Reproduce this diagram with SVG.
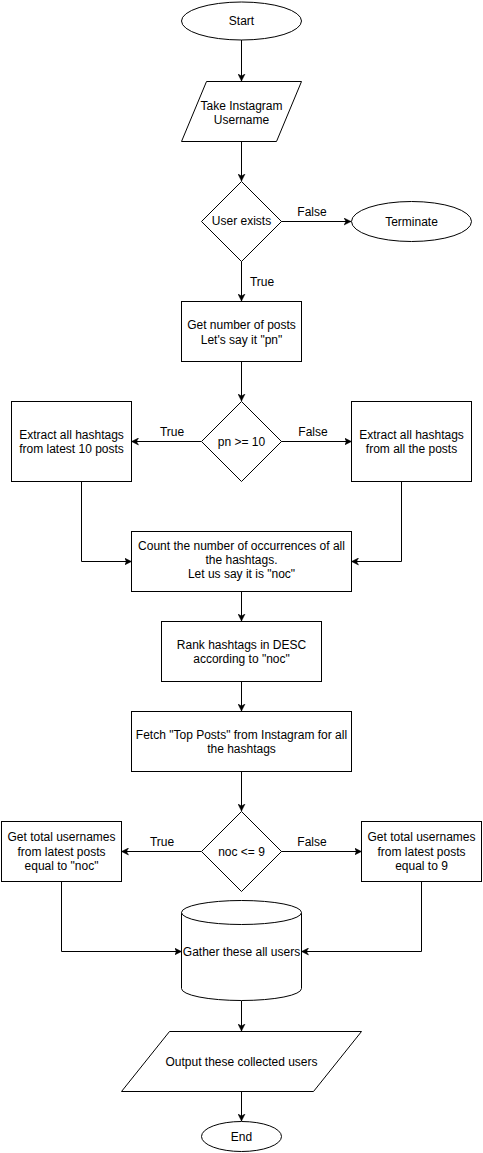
<svg xmlns="http://www.w3.org/2000/svg" width="483" height="1153" viewBox="0 0 483 1153">
<style>
.s{fill:#fff;stroke:#000;stroke-width:1}
.c{fill:none;stroke:#000;stroke-width:1;marker-end:url(#arr)}
text{font-family:"Liberation Sans",Arial,sans-serif;font-size:12px;fill:#000;text-anchor:middle}
</style>
<defs>
<marker id="arr" markerWidth="8" markerHeight="8" refX="7" refY="4" orient="auto" markerUnits="userSpaceOnUse">
<path d="M0,0.5 L7,4 L0,7.5 L2,4 Z" fill="#000" stroke="#000" stroke-width="0.5"/>
</marker>
</defs>
<rect width="483" height="1153" fill="#fff"/>
<g id="connectors">
<line class="c" x1="241.5" y1="40" x2="241.5" y2="81"/>
<line class="c" x1="241.5" y1="141" x2="241.5" y2="181"/>
<line class="c" x1="281" y1="221.5" x2="351" y2="221.5"/>
<line class="c" x1="241.5" y1="261" x2="241.5" y2="301"/>
<line class="c" x1="241.5" y1="361" x2="241.5" y2="401"/>
<line class="c" x1="201" y1="441.5" x2="131.5" y2="441.5"/>
<line class="c" x1="281" y1="441.5" x2="351.5" y2="441.5"/>
<polyline class="c" points="81.5,481 81.5,561.5 131.5,561.5"/>
<polyline class="c" points="401.5,481 401.5,561.5 351.5,561.5"/>
<line class="c" x1="241.5" y1="591" x2="241.5" y2="621"/>
<line class="c" x1="241.5" y1="681" x2="241.5" y2="711"/>
<line class="c" x1="241.5" y1="771" x2="241.5" y2="811"/>
<line class="c" x1="201" y1="851.5" x2="121.5" y2="851.5"/>
<line class="c" x1="281" y1="851.5" x2="361.5" y2="851.5"/>
<polyline class="c" points="61.5,881 61.5,951.5 181.5,951.5"/>
<polyline class="c" points="421.5,881 421.5,951.5 301.5,951.5"/>
<line class="c" x1="241.5" y1="1001" x2="241.5" y2="1031"/>
<line class="c" x1="241.5" y1="1091" x2="241.5" y2="1121"/>
<text x="312" y="216">False</text>
<text x="262" y="286">True</text>
<text x="172" y="436">True</text>
<text x="313" y="436">False</text>
<text x="162" y="846">True</text>
<text x="312" y="846">False</text>
</g>
<g id="start">
<ellipse class="s" cx="241.5" cy="21" rx="60" ry="19"/>
<text x="241.5" y="25">Start</text>
</g>
<g id="take-username">
<polygon class="s" points="206.5,81.5 301.5,81.5 276.5,141.5 181.5,141.5"/>
<text x="241.5" y="110">Take Instagram</text>
<text x="241.5" y="124">Username</text>
</g>
<g id="user-exists">
<polygon class="s" points="241.5,181.5 281.5,221.5 241.5,261.5 201.5,221.5"/>
<text x="241.5" y="225">User exists</text>
</g>
<g id="terminate">
<ellipse class="s" cx="411.5" cy="221.5" rx="60" ry="20"/>
<text x="411.5" y="226">Terminate</text>
</g>
<g id="get-posts">
<rect class="s" x="181.5" y="301.5" width="120" height="60"/>
<text x="241.5" y="329">Get number of posts</text>
<text x="241.5" y="344">Let's say it "pn"</text>
</g>
<g id="pn-check">
<polygon class="s" points="241.5,401.5 281.5,441.5 241.5,481.5 201.5,441.5"/>
<text x="241.5" y="446">pn &gt;= 10</text>
</g>
<g id="extract-latest">
<rect class="s" x="11.5" y="401.5" width="120" height="80"/>
<text x="71.5" y="439">Extract all hashtags</text>
<text x="71.5" y="453">from latest 10 posts</text>
</g>
<g id="extract-all">
<rect class="s" x="351.5" y="401.5" width="120" height="80"/>
<text x="411.5" y="439">Extract all hashtags</text>
<text x="411.5" y="453">from all the posts</text>
</g>
<g id="count">
<rect class="s" x="131.5" y="531.5" width="220" height="60"/>
<text x="241.5" y="550">Count the number of occurrences of all</text>
<text x="241.5" y="564">the hashtags.</text>
<text x="241.5" y="578">Let us say it is "noc"</text>
</g>
<g id="rank">
<rect class="s" x="161.5" y="621.5" width="160" height="60"/>
<text x="241.5" y="649">Rank hashtags in DESC</text>
<text x="241.5" y="663">according to "noc"</text>
</g>
<g id="fetch">
<rect class="s" x="131.5" y="711.5" width="220" height="60"/>
<text x="241.5" y="739">Fetch "Top Posts" from Instagram for all</text>
<text x="241.5" y="753">the hashtags</text>
</g>
<g id="noc-check">
<polygon class="s" points="241.5,811.5 281.5,851.5 241.5,891.5 201.5,851.5"/>
<text x="241.5" y="856">noc &lt;= 9</text>
</g>
<g id="users-noc">
<rect class="s" x="1.5" y="821.5" width="120" height="60"/>
<text x="61.5" y="841">Get total usernames</text>
<text x="61.5" y="856">from latest posts</text>
<text x="61.5" y="870">equal to "noc"</text>
</g>
<g id="users-9">
<rect class="s" x="361.5" y="821.5" width="120" height="60"/>
<text x="421.5" y="841">Get total usernames</text>
<text x="421.5" y="856">from latest posts</text>
<text x="421.5" y="870">equal to 9</text>
</g>
<g id="gather">
<path class="s" d="M181.5,912.5 A60,12 0 0 1 301.5,912.5 V988.5 A60,12 0 0 1 181.5,988.5 Z"/>
<path class="s" fill="none" d="M181.5,912.5 A60,12 0 0 0 301.5,912.5"/>
<text x="241.5" y="956">Gather these all users</text>
</g>
<g id="output">
<polygon class="s" points="169.5,1031.5 361.5,1031.5 313.5,1091.5 121.5,1091.5"/>
<text x="241.5" y="1066">Output these collected users</text>
</g>
<g id="end">
<ellipse class="s" cx="241.5" cy="1136.5" rx="40" ry="15"/>
<text x="241.5" y="1141">End</text>
</g>
</svg>
